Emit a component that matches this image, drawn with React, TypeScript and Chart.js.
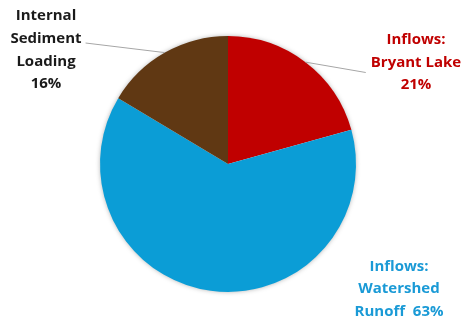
import React, { useEffect, useRef } from "react";
import { Chart, registerables } from "chart.js";

Chart.register(...registerables);

const categories = ["Inflows: Bryant Lake", "Inflows: Watershed Runoff", "Internal Sediment Loading"];
const values = [20.7, 62.9, 16.4];
const percentLabels = ["21%", "63%", "16%"];
const labelLines = [
  ["Inflows:", "Bryant Lake", "21%"],
  ["Inflows:", "Watershed", "Runoff  63%"],
  ["Internal", "Sediment", "Loading", "16%"],
];
const sliceColors = ["#C00000", "#0B9DD6", "#603813"];
const textColors = ["#C00000", "#1A9AD6", "#1A1A1A"];

// label placement relative to pie centre (px), and leader options
const labelPlacement = [
  { dx: 188, dy: -101.5, leader: true, leaderEnd: { side: "left", dy: 10 } },
  { dx: 171, dy: 125, leader: false },
  { dx: -182, dy: -114, leader: true, leaderEnd: { side: "right", dy: -7 } },
];

const pieExtras = {
  id: "pieExtras",
  beforeDatasetsDraw(chart: any) {
    const meta = chart.getDatasetMeta(0);
    const arc = meta.data[0];
    if (!arc) return;
    const { x, y, outerRadius } = arc.getProps(["x", "y", "outerRadius"], true);
    const ctx = chart.ctx;
    ctx.save();
    ctx.shadowColor = "rgba(0,0,0,0.35)";
    ctx.shadowBlur = 5;
    ctx.shadowOffsetX = 0;
    ctx.shadowOffsetY = 0;
    ctx.fillStyle = "#ffffff";
    ctx.beginPath();
    ctx.arc(x, y, outerRadius - 0.5, 0, Math.PI * 2);
    ctx.fill();
    ctx.restore();
  },
  afterDatasetsDraw(chart: any) {
    const meta = chart.getDatasetMeta(0);
    const ctx = chart.ctx;
    const lineH = 22.7;
    ctx.save();
    ctx.font = "bold 15px 'Open Sans', sans-serif";
    ctx.textAlign = "center";
    ctx.textBaseline = "middle";
    meta.data.forEach((el: any, i: number) => {
      const p = el.getProps(["x", "y", "startAngle", "endAngle", "outerRadius"], true);
      const place = labelPlacement[i];
      const cx = p.x + place.dx;
      const cy = p.y + place.dy;
      const lines = labelLines[i];
      const top = cy - ((lines.length - 1) * lineH) / 2;
      let maxW = 0;
      lines.forEach((t) => (maxW = Math.max(maxW, ctx.measureText(t).width)));
      if (place.leader && place.leaderEnd) {
        const mid = (p.startAngle + p.endAngle) / 2;
        const sx = p.x + Math.cos(mid) * p.outerRadius;
        const sy = p.y + Math.sin(mid) * p.outerRadius;
        const ex = place.leaderEnd.side === "left" ? cx - maxW / 2 - 5 : cx + maxW / 2 + 4;
        const ey = cy + place.leaderEnd.dy;
        ctx.strokeStyle = "#A6A6A6";
        ctx.lineWidth = 1;
        ctx.beginPath();
        ctx.moveTo(sx, sy);
        ctx.lineTo(ex, ey);
        ctx.stroke();
      }
      ctx.fillStyle = textColors[i];
      lines.forEach((t, j) => {
        ctx.fillText(t, cx, top + j * lineH);
      });
    });
    ctx.restore();
  },
};

export default function App() {
  const ref = useRef<HTMLCanvasElement | null>(null);
  useEffect(() => {
    document.body.style.margin = "0";
    if (!ref.current) return;
    const chart = new Chart(ref.current, {
      type: "pie",
      data: {
        labels: categories,
        datasets: [
          {
            data: values,
            backgroundColor: sliceColors,
            borderWidth: 0,
          },
        ],
      },
      options: {
        animation: false,
        responsive: false,
        maintainAspectRatio: false,
        layout: { padding: { top: 36, bottom: 32, left: 100, right: 109 } },
        plugins: {
          legend: { display: false },
          tooltip: { enabled: false },
        },
      },
      plugins: [pieExtras],
    });
    return () => chart.destroy();
  }, []);
  return (
    <div style={{ width: 465, height: 324, background: "#fff" }}>
      <canvas ref={ref} width={465} height={324} style={{ display: "block" }} />
    </div>
  );
}
